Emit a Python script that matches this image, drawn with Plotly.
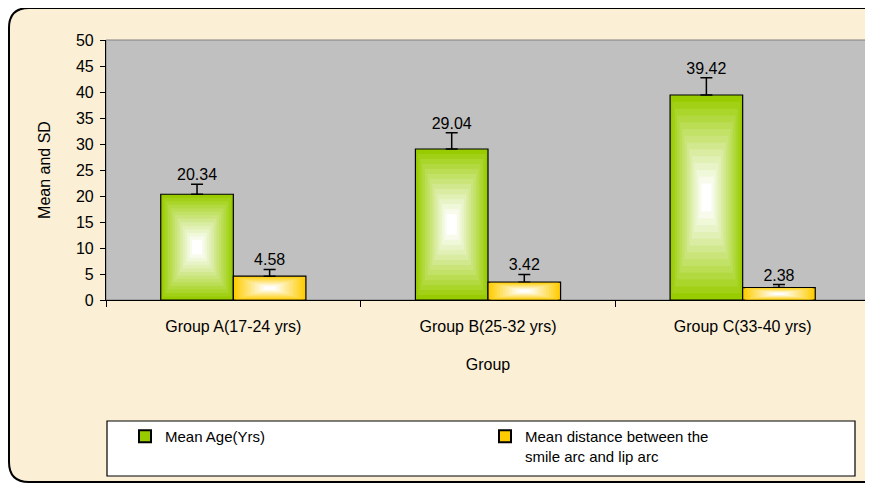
import plotly.graph_objects as go

# ---------------- data ----------------
categories = ["Group A(17-24 yrs)", "Group B(25-32 yrs)", "Group C(33-40 yrs)"]
mean_age = [20.34, 29.04, 39.42]
sd_age = [1.9, 3.1, 3.3]
mean_dist = [4.58, 3.42, 2.38]
sd_dist = [1.3, 1.5, 0.6]
series_names = ["Mean Age(Yrs)", "Mean distance between the<br>smile arc and lip arc"]
y_ticks = list(range(0, 51, 5))

# ---------------- layout constants ----------------
# the page body has an 8px margin, so figure coords = page coords - 8
OFF = 8
W, H = 873 - OFF, 486 - OFF
PL, PR, PT, PB = 106, 870, 40, 300          # plot area in page pixels
ML, MR, MT, MB = PL - OFF, W - (PR - OFF), PT - OFF, H - (PB - OFF)
PW, PH = W - ML - MR, H - MT - MB
FONT = "Liberation Sans, Arial, sans-serif"

GREEN = (153, 204, 0)
YELLOW = (255, 204, 0)
BAR_W = 0.285
N_LEVELS = 14


def px_x(px):  # page px -> paper
    return (px - PL) / PW


def px_y(py):
    return (PB - py) / PH


def mix(c, t):
    r, g, b = [round(ci + (255 - ci) * t) for ci in c]
    return f"rgb({r},{g},{b})"


pos = list(range(len(categories)))
fig = go.Figure()

series = [
    (mean_age, sd_age, GREEN, [p - BAR_W / 2 for p in pos], series_names[0]),
    (mean_dist, sd_dist, YELLOW, [p + BAR_W / 2 for p in pos], series_names[1]),
]

for vals, sds, col, xs, name in series:
    for k in range(N_LEVELS):
        f = 0.93 * k / N_LEVELS
        t = (k / (N_LEVELS - 1)) ** 0.95
        kw = {}
        if k == 0:
            kw["error_y"] = dict(type="data", array=sds, arrayminus=[0] * len(sds),
                                 symmetric=False, color="black", thickness=1.5, width=6)
        fig.add_trace(go.Bar(
            x=xs,
            y=[v * (1 - f) for v in vals],
            base=[v * f / 2 for v in vals],
            width=BAR_W * (1 - f),
            marker=dict(color=mix(col, t),
                        line=dict(color="black", width=1.2 if k == 0 else 0)),
            name=name,
            showlegend=(k == 0),
            hoverinfo="skip",
            **kw,
        ))
    # value labels above error bars
    fig.add_trace(go.Scatter(
        x=xs, y=[v + s for v, s in zip(vals, sds)],
        mode="text", text=[f"{v:.2f}" for v in vals],
        textposition="top center",
        textfont=dict(family=FONT, size=16, color="black"),
        showlegend=False, hoverinfo="skip",
    ))

# ---------------- background shapes ----------------
# rounded outer frame (page pixels)
x0, x1, y0, y1 = 9, 890, 8, 482
r = 20
rx, ry = r / PW, r / PH
X0, X1, Y0, Y1 = px_x(x0), px_x(x1), px_y(y0), px_y(y1)
path = (f"M {X0 + rx} {Y0} L {X1 - rx} {Y0} Q {X1} {Y0} {X1} {Y0 - ry} "
        f"L {X1} {Y1 + ry} Q {X1} {Y1} {X1 - rx} {Y1} "
        f"L {X0 + rx} {Y1} Q {X0} {Y1} {X0} {Y1 + ry} "
        f"L {X0} {Y0 - ry} Q {X0} {Y0} {X0 + rx} {Y0} Z")
shapes = [
    dict(type="path", xref="paper", yref="paper", path=path,
         fillcolor="#FBEFD6", line=dict(color="black", width=2), layer="below"),
    dict(type="rect", xref="paper", yref="paper", x0=0, x1=1, y0=0, y1=1,
         fillcolor="#C0C0C0", line=dict(color="#808080", width=1), layer="below"),
    dict(type="rect", xref="paper", yref="paper",
         x0=px_x(107), x1=px_x(855), y0=px_y(421), y1=px_y(476),
         fillcolor="white", line=dict(color="black", width=1.2), layer="below"),
]

fig.update_layout(
    width=W, height=H,
    margin=dict(l=ML, r=MR, t=MT, b=MB, autoexpand=False),
    paper_bgcolor="white",
    plot_bgcolor="rgba(0,0,0,0)",
    barmode="overlay",
    font=dict(family=FONT, size=16, color="black"),
    shapes=shapes,
    showlegend=True,
    legend=dict(
        orientation="h", x=px_x(125), y=px_y(420), xanchor="left", yanchor="top",
        bgcolor="rgba(0,0,0,0)", entrywidth=315, entrywidthmode="pixels",
        valign="top", font=dict(family=FONT, size=15, color="black"),
        traceorder="normal", itemsizing="constant",
    ),
)

fig.update_xaxes(
    range=[-0.5, len(categories) - 0.5],
    tickmode="array", tickvals=pos, ticktext=categories, ticks="",
    ticklabelstandoff=12,
    minor=dict(tickvals=[p - 0.5 for p in pos] + [pos[-1] + 0.5], ticks="outside",
               ticklen=6, tickcolor="black", tickwidth=1, showgrid=False),
    showline=True, linecolor="black", linewidth=1.2, showgrid=False, zeroline=False,
    tickfont=dict(family=FONT, size=16),
    title=dict(text="Group", font=dict(family=FONT, size=16), standoff=24),
)
fig.update_yaxes(
    range=[0, 50], tickmode="array", tickvals=y_ticks,
    ticks="outside", ticklen=5, tickcolor="black", ticklabelstandoff=3,
    showline=True, linecolor="black", linewidth=1.2, showgrid=False, zeroline=False,
    tickfont=dict(family=FONT, size=16),
    title=dict(text="Mean and SD", font=dict(family=FONT, size=16), standoff=21),
)

fig.write_html("out.html")
